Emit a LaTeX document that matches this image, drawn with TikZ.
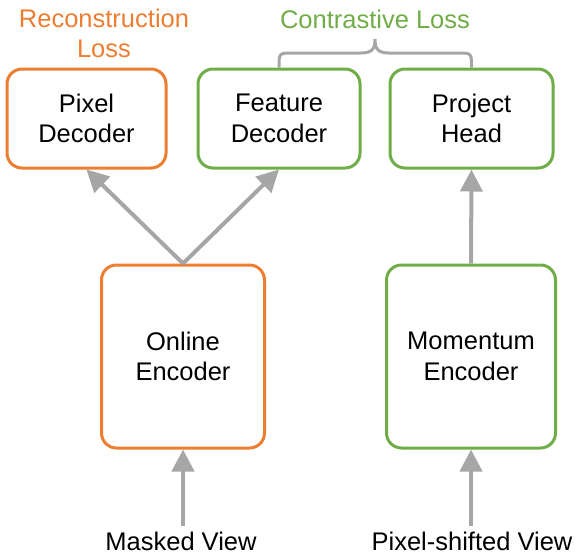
\documentclass[tikz,border=0pt]{standalone}
\usepackage{fontspec}
\setmainfont{Liberation Sans}
\usetikzlibrary{arrows.meta,calc}
\definecolor{orng}{HTML}{ED7D31}
\definecolor{grn}{HTML}{70AD47}
\definecolor{arrg}{HTML}{A6A6A6}
\begin{document}
\begin{tikzpicture}[x=1pt,y=-1pt,
  box/.style={draw, line width=3pt, rounded corners=15pt, fill=white, align=center,
    font=\fontsize{25.5}{30.5}\selectfont, inner sep=0pt},
  obox/.style={box, draw=orng},
  gbox/.style={box, draw=grn},
  lbl/.style={font=\fontsize{25.5}{30}\selectfont, inner sep=5pt, align=center},
  arr/.style={draw=arrg, line width=4pt, -{Triangle[width=22pt,length=22pt]}},
  bracestyle/.style={draw=arrg, line width=3pt}]
\useasboundingbox (0,0) rectangle (580,557);
\node[obox, minimum width=159pt, minimum height=99pt] (pd) at (86.5,118.5) {Pixel\\Decoder};
\node[gbox, minimum width=162pt, minimum height=99pt] (fd) at (279,118.5) {Feature\\Decoder};
\node[gbox, minimum width=163pt, minimum height=99pt] (ph) at (471.5,118.5) {Project\\Head};
\node[obox, minimum width=163pt, minimum height=183pt] (oe) at (183,356.5) {Online\\Encoder};
\node[gbox, minimum width=169pt, minimum height=183pt] (me) at (471,356.5) {Momentum\\Encoder};
\node[lbl, anchor=base] (mv) at (181,550) {Masked View};
\node[lbl, anchor=base] (psv) at (472,550) {Pixel-shifted View};
\node[lbl, text=orng] (rl) at (104,33.5) {Reconstruction\\Loss};
\node[lbl, text=grn, anchor=base] (cl) at (375,28.5) {Contrastive Loss};
\draw[arr] (oe.north) -- (pd.south);
\draw[arr] (oe.north) -- (fd.south);
\draw[arr] (me.north) -- (ph.south);
\draw[arr] (oe.south |- mv.north) -- (oe.south);
\draw[arr] (me.south |- psv.north) -- (me.south);
\coordinate (tip) at (375,39);
\draw[bracestyle] (fd.north) -- (279,67) .. controls (279,53) .. (293,53) -- (361,53)
  .. controls (373,53) and (375,48) .. (tip)
  .. controls (375,48) and (377,53) .. (389,53) -- (457.5,53)
  .. controls (471.5,53) .. (471.5,67) -- (ph.north);
\end{tikzpicture}
\end{document}
